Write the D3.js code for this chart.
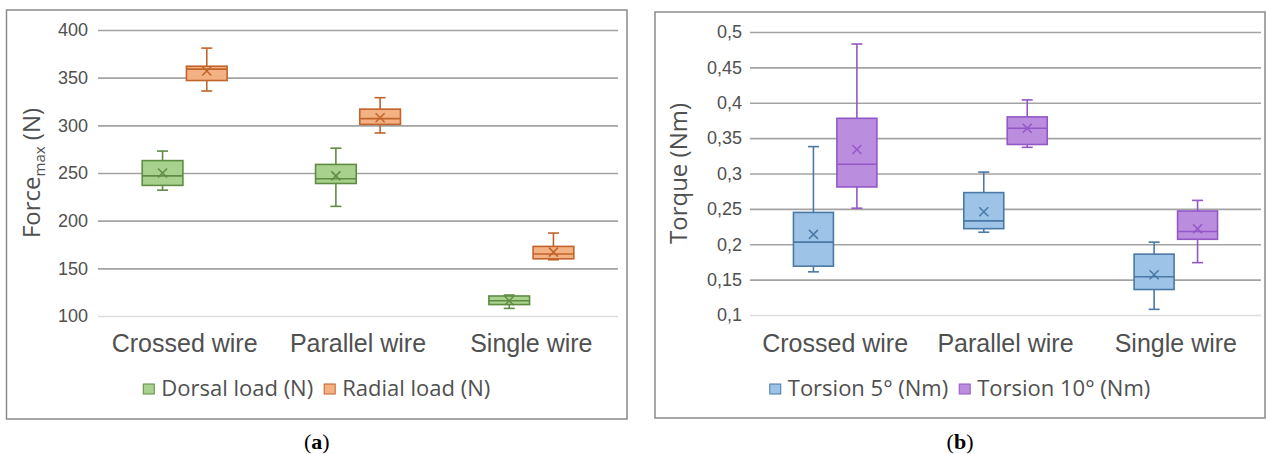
<!DOCTYPE html>
<html>
<head>
<meta charset="utf-8">
<script src="https://cdn.jsdelivr.net/npm/d3@7"></script>
<style>
  body { margin: 0; background: #fff; }
  svg { display: block; font-family: "Open Sans", Lato, sans-serif; }
</style>
</head>
<body>
<svg id="chart" width="1266" height="454"></svg>
<script>
// categories shared by both panels
const categories = ['Crossed wire', 'Parallel wire', 'Single wire'];

// panel (a) : [min, q1, median, q3, max, mean] per category
const forceSeries = ['Dorsal load (N)', 'Radial load (N)'];
const dorsalLoad = [
    [232, 237, 247, 263, 273, 250],
    [215, 239, 244, 259, 276, 247],
    [108, 112, 116, 121, 122, 116]
];
const radialLoad = [
    [336, 347, 359, 362, 381, 357],
    [292, 301, 307, 317, 329, 308],
    [159, 160, 165, 173, 187, 167]
];
const forceTicks = [100, 150, 200, 250, 300, 350, 400];

// panel (b)
const torqueSeries = ['Torsion 5° (Nm)', 'Torsion 10° (Nm)'];
const torsion5 = [
    [0.161, 0.169, 0.203, 0.245, 0.338, 0.214],
    [0.217, 0.222, 0.233, 0.273, 0.302, 0.246],
    [0.108, 0.136, 0.154, 0.186, 0.203, 0.157]
];
const torsion10 = [
    [0.251, 0.281, 0.313, 0.378, 0.483, 0.334],
    [0.337, 0.341, 0.364, 0.380, 0.404, 0.364],
    [0.174, 0.207, 0.218, 0.247, 0.262, 0.222]
];
const torqueTicks = [0.1, 0.15, 0.2, 0.25, 0.3, 0.35, 0.4, 0.45, 0.5];

const textColor = '#505050';
const svg = d3.select('#chart');

function drawPanel(p) {
    // cadre
    svg.append('rect')
        .attr('x', p.frame[0]).attr('y', p.frame[1])
        .attr('width', p.frame[2] - p.frame[0]).attr('height', p.frame[3] - p.frame[1])
        .attr('fill', 'none').attr('stroke', '#8a8a8a').attr('stroke-width', 1.5);

    const y = d3.scaleLinear().domain(p.domain).range([p.bottom, p.top]);
    const x0 = d3.scaleBand().domain(categories).range([p.left, p.right]);
    const x1 = d3.scaleBand().domain(p.series)
        .range([0, x0.bandwidth()]).paddingInner(0.08).paddingOuter(1.0);

    // grille + graduations
    const yAxis = svg.append('g')
        .attr('transform', `translate(${p.left},0)`)
        .call(d3.axisLeft(y).tickValues(p.ticks).tickSize(-(p.right - p.left))
            .tickPadding(p.tickPad).tickFormat(p.fmt));
    yAxis.select('.domain').remove();
    yAxis.selectAll('.tick line')
        .attr('stroke', (d, i) => i === 0 ? '#dcdcdc' : '#a3a3a3')
        .attr('stroke-width', 1.6);
    yAxis.selectAll('.tick text')
        .attr('fill', textColor).style('font-size', '18px');

    // libellés des catégories
    const xAxis = svg.append('g')
        .attr('transform', `translate(0,${p.bottom})`)
        .call(d3.axisBottom(x0).tickSize(0));
    xAxis.select('.domain').remove();
    xAxis.selectAll('.tick text')
        .attr('y', 352 - p.bottom).attr('dy', 0)
        .attr('fill', textColor).style('font-size', '25px');

    // titre de l'axe Y
    const title = svg.append('text')
        .attr('transform', `translate(${p.titleX},${(p.top + p.bottom) / 2}) rotate(-90)`)
        .attr('text-anchor', 'middle')
        .attr('fill', textColor).style('font-size', '24px');
    title.append('tspan').text(p.title[0]);
    if (p.title.length > 2) {
        title.append('tspan').text(p.title[1]).attr('dy', 5).style('font-size', '15px');
        title.append('tspan').text(p.title[2]).attr('dy', -5);
    }

    // boîtes
    p.series.forEach((s, si) => {
        const col = p.colors[si];
        const g = svg.append('g');
        const items = g.selectAll('g.box')
            .data(p.values[si].map((v, i) => ({ cat: categories[i], v })))
            .enter().append('g')
            .attr('transform', d => `translate(${x0(d.cat) + x1(s)},0)`);
        const bw = x1.bandwidth();
        const cx = bw / 2;

        // moustaches
        items.append('line')
            .attr('x1', cx).attr('x2', cx)
            .attr('y1', d => y(d.v[4])).attr('y2', d => y(d.v[3]));
        items.append('line')
            .attr('x1', cx).attr('x2', cx)
            .attr('y1', d => y(d.v[1])).attr('y2', d => y(d.v[0]));
        items.append('line')
            .attr('x1', cx - 5.5).attr('x2', cx + 5.5)
            .attr('y1', d => y(d.v[4])).attr('y2', d => y(d.v[4]));
        items.append('line')
            .attr('x1', cx - 5.5).attr('x2', cx + 5.5)
            .attr('y1', d => y(d.v[0])).attr('y2', d => y(d.v[0]));

        items.append('rect')
            .attr('x', 0).attr('width', bw)
            .attr('y', d => y(d.v[3]))
            .attr('height', d => y(d.v[1]) - y(d.v[3]))
            .attr('fill', col.fill);

        // médiane
        items.append('line')
            .attr('x1', 0).attr('x2', bw)
            .attr('y1', d => y(d.v[2])).attr('y2', d => y(d.v[2]));

        // moyenne (x)
        items.append('path')
            .attr('d', d => {
                const my = y(d.v[5]);
                return `M${cx - 4.5},${my - 4.5}L${cx + 4.5},${my + 4.5}M${cx - 4.5},${my + 4.5}L${cx + 4.5},${my - 4.5}`;
            })
            .attr('stroke-width', 1.5);

        items.selectAll('line, rect, path')
            .attr('stroke', col.stroke)
            .attr('stroke-width', function () { return d3.select(this).attr('stroke-width') || 1.6; });
    });

    // légende
    const legend = svg.append('g');
    let lx = 0;
    p.series.forEach((s, si) => {
        legend.append('rect')
            .attr('x', lx).attr('y', 384).attr('width', 11).attr('height', 10)
            .attr('fill', p.colors[si].fill).attr('stroke', p.colors[si].stroke).attr('stroke-width', 1);
        const t = legend.append('text')
            .attr('x', lx + 18).attr('y', 396)
            .attr('fill', textColor).style('font-size', '22px')
            .text(s);
        lx += 18 + t.node().getComputedTextLength() + 11;
    });
    const legendW = lx - 11;
    legend.attr('transform', `translate(${(p.frame[0] + p.frame[2]) / 2 - legendW / 2},0)`);

    // légende de la figure
    const cap = svg.append('text')
        .attr('x', (p.frame[0] + p.frame[2]) / 2).attr('y', 449)
        .attr('text-anchor', 'middle')
        .style('font-family', '"Liberation Serif", "DejaVu Serif", serif')
        .style('font-size', '22px').attr('fill', '#000');
    cap.append('tspan').text('(');
    cap.append('tspan').text(p.caption).style('font-weight', 'bold');
    cap.append('tspan').text(')');
}

drawPanel({
    frame: [6.5, 10, 627, 419],
    left: 98, right: 618, top: 30, bottom: 316,
    domain: [100, 400], ticks: forceTicks, tickPad: 10,
    fmt: d3.format('d'),
    series: forceSeries, values: [dorsalLoad, radialLoad],
    colors: [
        { fill: '#a9d18e', stroke: '#5e8c43' },
        { fill: '#f4b183', stroke: '#c0642b' }
    ],
    title: ['Force', 'max', ' (N)'], titleX: 40,
    caption: 'a'
});

drawPanel({
    frame: [655, 12, 1265, 418],
    left: 750, right: 1261, top: 32, bottom: 315,
    domain: [0.1, 0.5], ticks: torqueTicks, tickPad: 8,
    fmt: d => String(+d.toFixed(2)).replace('.', ','),
    series: torqueSeries, values: [torsion5, torsion10],
    colors: [
        { fill: '#9dc3e6', stroke: '#4a79a5' },
        { fill: '#bb8ddf', stroke: '#9457c6' }
    ],
    title: ['Torque (Nm)'], titleX: 687,
    caption: 'b'
});
</script>
</body>
</html>
